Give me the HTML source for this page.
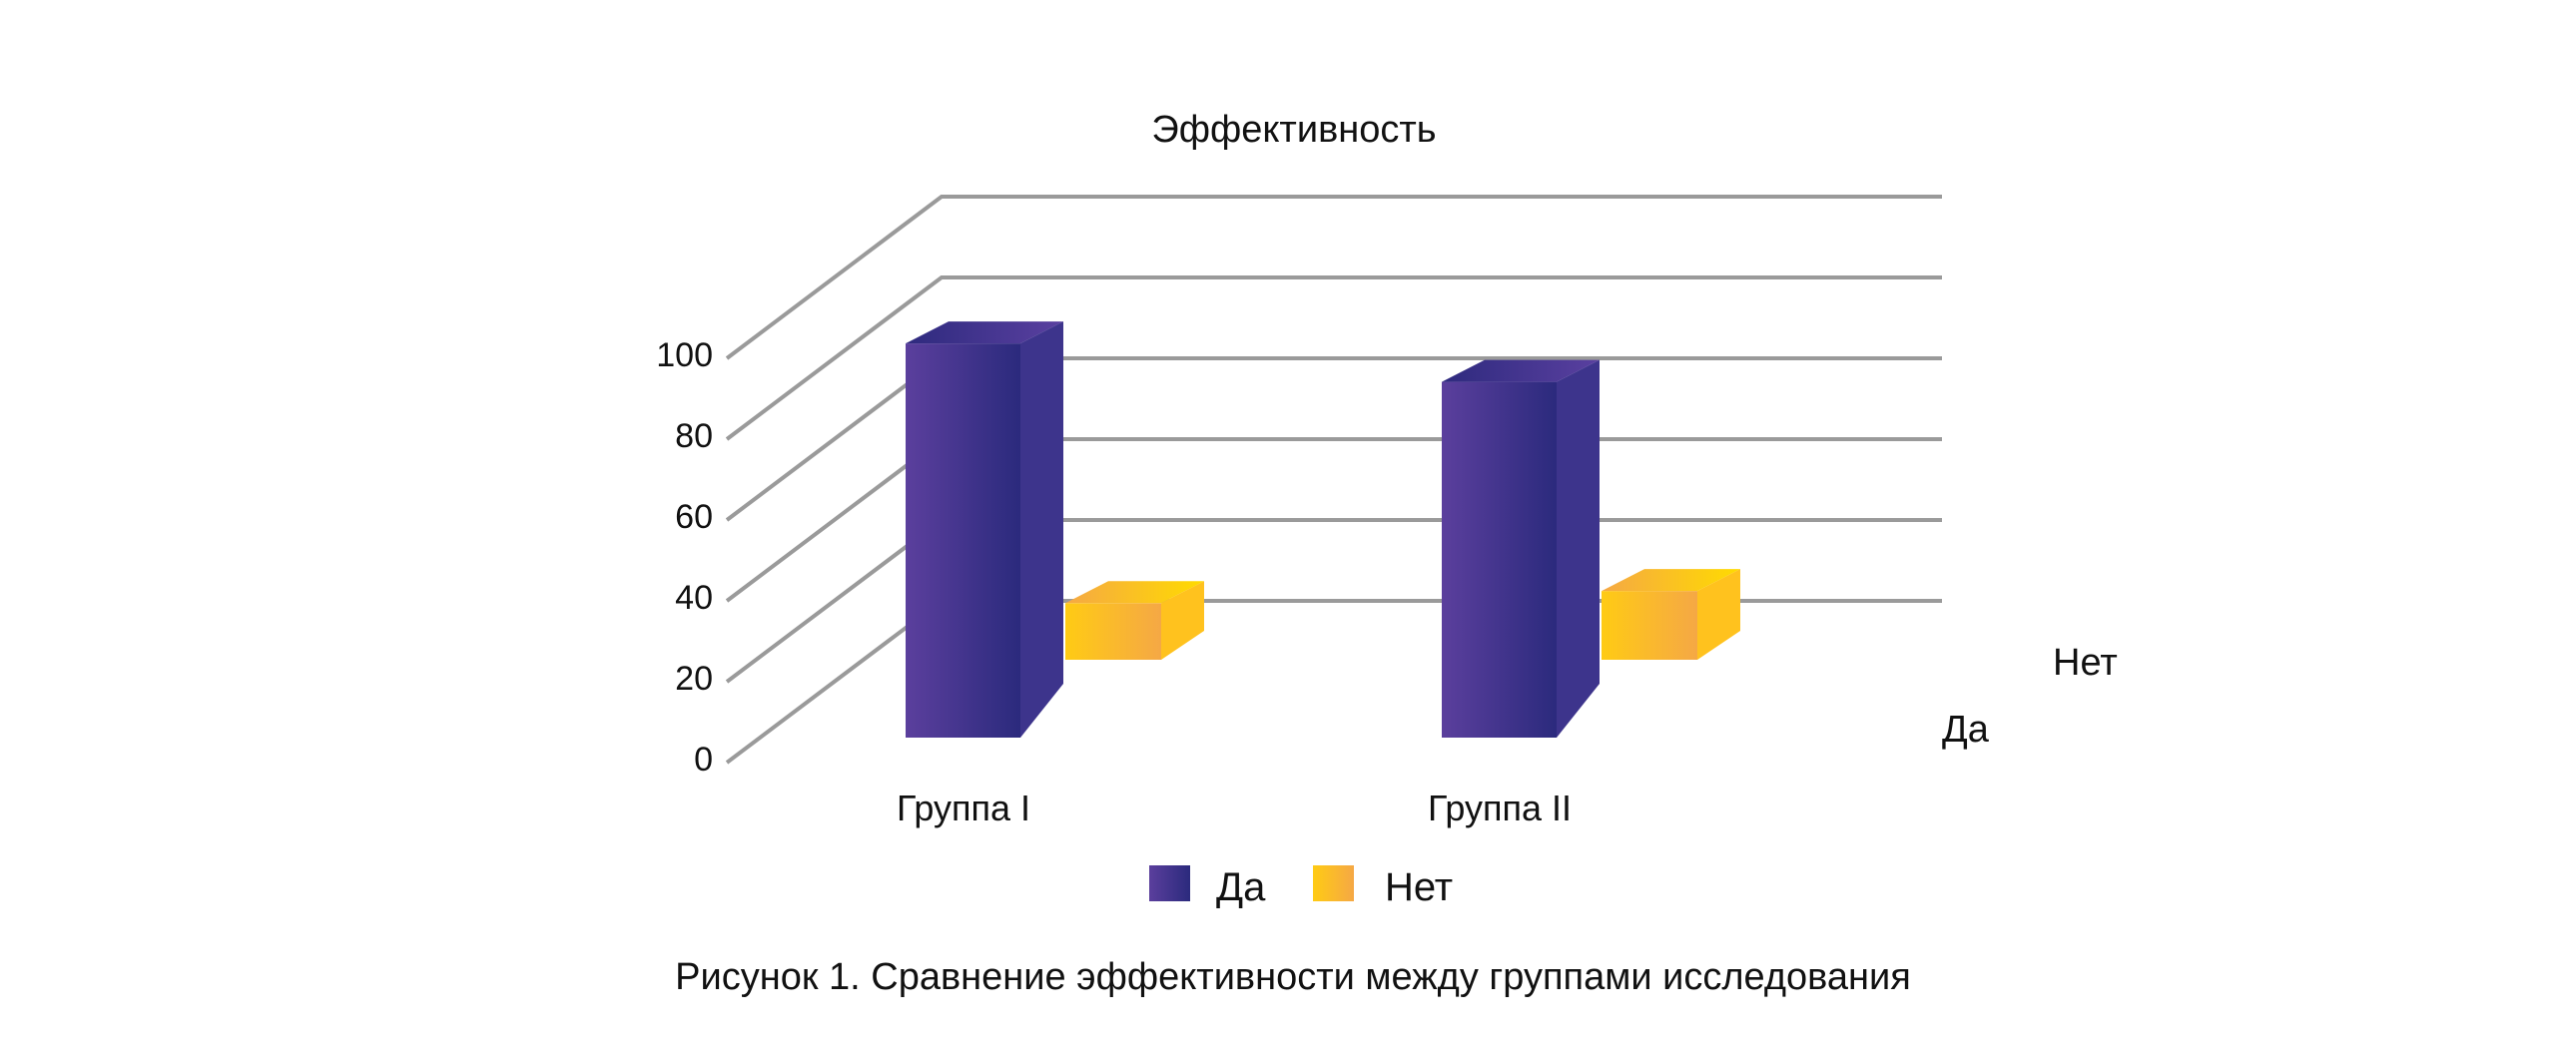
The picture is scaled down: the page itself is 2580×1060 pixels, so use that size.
<!DOCTYPE html>
<html><head><meta charset="utf-8"><style>
html,body{margin:0;padding:0;background:#fff;}
svg{display:block;font-family:"Liberation Sans",sans-serif;}
</style></head><body>
<svg id="chart" width="2580" height="1060" viewBox="0 0 2580 1060">
<defs>
<linearGradient id="pf" x1="0" x2="1"><stop offset="0" stop-color="#5b3f9d"/><stop offset="1" stop-color="#2b2a7d"/></linearGradient>
<linearGradient id="pt" x1="0" x2="1"><stop offset="0" stop-color="#2e2a7e"/><stop offset="1" stop-color="#5a40a0"/></linearGradient>
<linearGradient id="yf" x1="0" x2="1"><stop offset="0" stop-color="#ffcb14"/><stop offset="1" stop-color="#f5a845"/></linearGradient>
<linearGradient id="yt" x1="0" x2="1"><stop offset="0" stop-color="#f5a845"/><stop offset="1" stop-color="#ffdb00"/></linearGradient>
</defs>
<g id="grid"></g>
<g id="bars"></g>
<g id="labels"></g>
<text x="1296" y="142" font-size="38" text-anchor="middle" fill="#111">Эффективность</text>
<text x="2056" y="676" font-size="38" fill="#111">Нет</text>
<text x="1945" y="743" font-size="38" fill="#111">Да</text>
<g>
<rect x="1151" y="867" width="41" height="36" fill="url(#pf)"/>
<text x="1218" y="902" font-size="40" fill="#111">Да</text>
<rect x="1315" y="867" width="41" height="36" fill="url(#yf)"/>
<text x="1387" y="902" font-size="40" fill="#111">Нет</text>
</g>
<text x="1295" y="991" font-size="38" text-anchor="middle" fill="#111">Рисунок 1. Сравнение эффективности между группами исследования</text>
</svg>
<script>
const categories = ["Группа I", "Группа II"];
const daValues = [97.5, 88];
const netValues = [14, 17];
const tickValues = [0, 20, 40, 60, 80, 100];

const NS = "http://www.w3.org/2000/svg";
const unit = 4.05;
const frontX = 728, frontY0 = 764, backX = 943, backY0 = 602, backRight = 1945;
function yFront(v){ return frontY0 - v*unit; }
function yBack(v){ return backY0 - v*unit; }
const catX = [907, 1444];
function mk(tag, attrs, parent){ const e=document.createElementNS(NS,tag); for(const k in attrs) e.setAttribute(k, attrs[k]); parent.appendChild(e); return e; }

const grid = document.getElementById('grid');
const labels = document.getElementById('labels');
tickValues.forEach(v=>{
  const p = mk('polyline',{points:`${frontX},${yFront(v)} ${backX},${yBack(v)} ${backRight},${yBack(v)}`,fill:'none',stroke:'#9a9a9a','stroke-width':4},grid);
  
  
  const t = mk('text',{x:714,y:yFront(v)+8,'font-size':34,'text-anchor':'end',fill:'#111'},labels);
  t.textContent = v;
  
  
});
categories.forEach((c,i)=>{
  const t = mk('text',{x:catX[i]+58,y:822,'font-size':36,'text-anchor':'middle',fill:'#111'},labels);
  t.textContent = c;
  
  
});

const bars = document.getElementById('bars');
// Нет (back row)
netValues.forEach((v,i)=>{
  const g = mk('g',{},bars);
  
  
  const base = 661, x0 = catX[i]+160, x1 = x0+96, dx = 43, dt = 22, db = 29;
  const top = base - v*unit;
  mk('rect',{x:x0,y:top,width:x1-x0,height:base-top,fill:'url(#yf)'},g);
  mk('polygon',{points:`${x0},${top} ${x0+dx},${top-dt} ${x1+dx},${top-dt} ${x1},${top}`,fill:'url(#yt)'},g);
  mk('polygon',{points:`${x1},${top} ${x1+dx},${top-dt} ${x1+dx},${base-db} ${x1},${base}`,fill:'#ffc21e'},g);
});
// Да (front row)
daValues.forEach((v,i)=>{
  const g = mk('g',{},bars);
  
  
  const base = 739, x0 = catX[i], x1 = x0+115, dx = 43, dt = 22, db = 54;
  const top = base - v*unit;
  mk('rect',{x:x0,y:top,width:x1-x0,height:base-top,fill:'url(#pf)'},g);
  mk('polygon',{points:`${x0},${top} ${x0+dx},${top-dt} ${x1+dx},${top-dt} ${x1},${top}`,fill:'url(#pt)'},g);
  mk('polygon',{points:`${x1},${top} ${x1+dx},${top-dt} ${x1+dx},${base-db} ${x1},${base}`,fill:'#3d348c'},g);
});
</script>
</body></html>
